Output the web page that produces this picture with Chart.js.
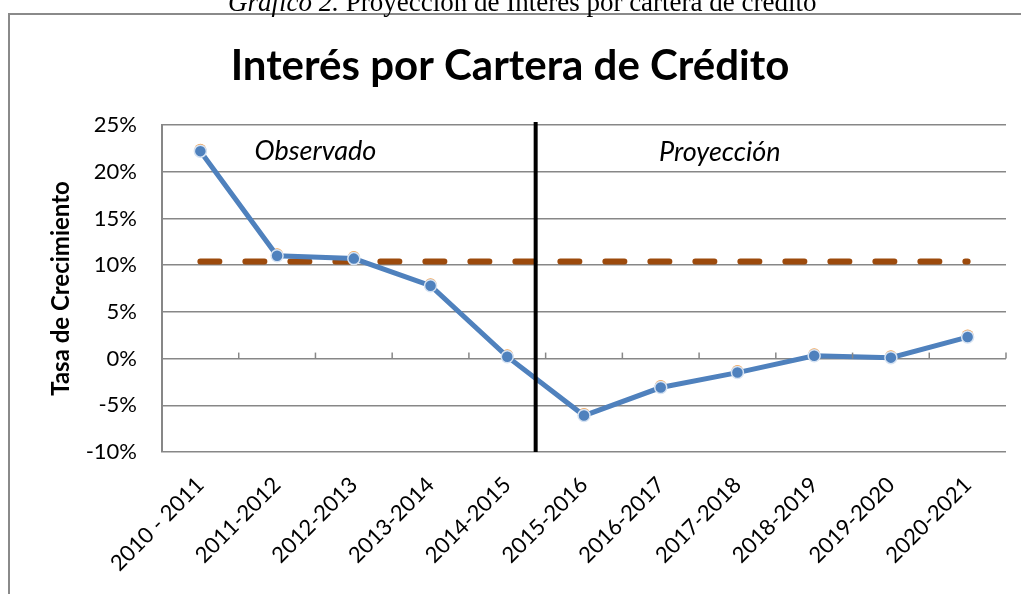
<!DOCTYPE html>
<html>
<head>
<meta charset="utf-8">
<script src="https://cdn.jsdelivr.net/npm/chart.js@4.4.1/dist/chart.umd.min.js"></script>
<style>
  html, body { margin: 0; padding: 0; background: #fff; }
  #wrap { width: 1021px; height: 594px; position: relative; }
</style>
</head>
<body>
<div id="wrap"><canvas id="myChart"></canvas></div>
<script>
const periods = [
  '2010 - 2011', '2011-2012', '2012-2013', '2013-2014', '2014-2015', '2015-2016',
  '2016-2017', '2017-2018', '2018-2019', '2019-2020', '2020-2021'
]
// tasa de crecimiento, en %
const growth = [22.2, 11.0, 10.7, 7.8, 0.2, -6.1, -3.1, -1.5, 0.3, 0.1, 2.3]
// promedio observado
const average = [10.4, 10.4, 10.4, 10.4, 10.4, 10.4, 10.4, 10.4, 10.4, 10.4, 10.4]
const yMin = -10
const yMax = 25
const yStep = 5

// where observed ends and projection begins (category index)
const dividerAt = 4.37
const notes = [
  { text: 'Observado', at: 1.5, value: 22.2 },
  { text: 'Proyección', at: 6.77, value: 22.1 }
]

const FONT = 'Lato, "Open Sans", sans-serif'
const GRID = '#878787'

const decorations = {
  id: 'decorations',
  beforeDraw(chart) {
    const c = chart.ctx
    c.save()
    // outer frame of the figure
    c.strokeStyle = '#8a8a8a'
    c.lineWidth = 2
    c.beginPath()
    c.moveTo(9, 594)
    c.lineTo(9, 14)
    c.lineTo(1021, 14)
    c.stroke()
    // caption above the frame
    c.fillStyle = '#000'
    c.textBaseline = 'alphabetic'
    c.font = 'italic 27px "Liberation Serif", "Times New Roman", serif'
    let x = 228
    c.fillText('Gráfico 2.', x, 11)
    x += c.measureText('Gráfico 2.').width
    c.font = '27px "Liberation Serif", "Times New Roman", serif'
    c.fillText(' Proyección de Interés por cartera de crédito', x, 11)
    // chart title, centred on the frame
    c.font = 'bold 42px ' + FONT
    c.textAlign = 'center'
    c.textBaseline = 'middle'
    c.fillText('Interés por Cartera de Crédito', 510, 66)
    c.restore()
  },
  beforeDatasetDraw(chart, args) {
    // orange rim peeking above each marker
    if (args.index !== 0) return
    const c = chart.ctx
    c.save()
    c.fillStyle = '#F0A050'
    args.meta.data.forEach(p => {
      c.beginPath()
      c.arc(p.x, p.y - 1.5, 6, 0, Math.PI * 2)
      c.fill()
    })
    c.restore()
  },
  afterDatasetsDraw(chart) {
    const c = chart.ctx
    const xs = chart.scales.x
    const ys = chart.scales.y
    const area = chart.chartArea
    c.save()
    // small ticks on the 0% line
    const y0 = ys.getPixelForValue(0)
    c.strokeStyle = GRID
    c.lineWidth = 1.5
    for (let i = 0; i <= periods.length; i++) {
      const px = xs.getPixelForValue(i - 0.5)
      c.beginPath()
      c.moveTo(px, y0)
      c.lineTo(px, y0 - 6)
      c.stroke()
    }
    // divider observed / projection
    const dx = xs.getPixelForValue(dividerAt)
    c.strokeStyle = '#000'
    c.lineWidth = 4
    c.beginPath()
    c.moveTo(dx, area.top - 3)
    c.lineTo(dx, area.bottom)
    c.stroke()
    // notes
    c.fillStyle = '#000'
    c.font = 'italic 27px ' + FONT
    c.textAlign = 'center'
    c.textBaseline = 'middle'
    notes.forEach(n => c.fillText(n.text, xs.getPixelForValue(n.at), ys.getPixelForValue(n.value)))
    c.restore()
  }
}

const ctx = document.getElementById('myChart')
const myChart = new Chart(ctx, {
  type: 'line',
  data: {
    labels: periods,
    datasets: [{
      data: growth,
      borderColor: '#4F81BD',
      borderWidth: 5,
      lineTension: 0,
      pointRadius: 6,
      pointBackgroundColor: '#4F81BD',
      pointBorderColor: '#d5e2f2',
      pointBorderWidth: 1.5,
      order: 1
    }, {
      data: average,
      borderColor: '#9C4A0C',
      borderWidth: 6,
      borderDash: [19, 26],
      borderCapStyle: 'round',
      lineTension: 0,
      pointRadius: 0,
      order: 2
    }]
  },
  options: {
    responsive: true,
    maintainAspectRatio: false,
    animation: false,
    events: [],
    layout: { padding: { left: 0, right: 15, top: 125, bottom: 0 } },
    plugins: {
      legend: { display: false },
      tooltip: { enabled: false },
      title: { display: false }
    },
    scales: {
      x: {
        offset: true,
        grid: { display: false, drawTicks: false },
        border: { display: false },
        ticks: {
          color: '#000',
          font: { family: FONT, size: 22 },
          minRotation: 45,
          maxRotation: 45,
          autoSkip: false,
          padding: 20
        },
        afterFit(scale) { scale.height = 142 }
      },
      y: {
        min: yMin,
        max: yMax,
        grid: { color: GRID, lineWidth: 1.5, drawTicks: false },
        border: { display: true, color: GRID, width: 2 },
        ticks: {
          stepSize: yStep,
          color: '#000',
          font: { family: FONT, size: 22 },
          padding: 25,
          callback: v => v + '%'
        },
        title: {
          display: true,
          text: 'Tasa de Crecimiento',
          color: '#000',
          font: { family: FONT, size: 24, weight: 'bold' },
          padding: { top: 47, bottom: 0 }
        },
        afterFit(scale) { scale.width = 162 }
      }
    }
  },
  plugins: [decorations]
})
</script>
</body>
</html>
